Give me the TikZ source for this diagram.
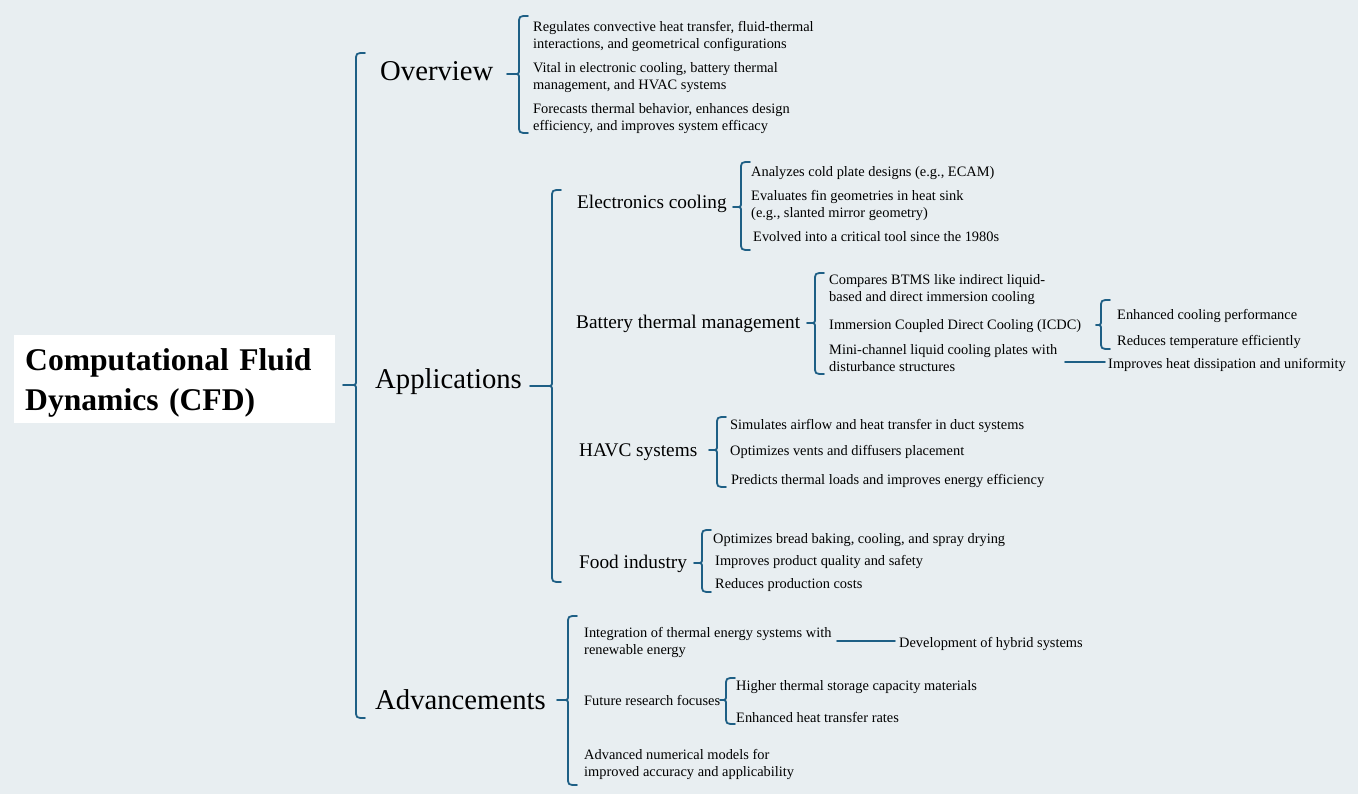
\documentclass[tikz,border=0pt]{standalone}
\usepackage{fontspec}
\setmainfont{Liberation Serif}
\definecolor{bgc}{RGB}{232,238,241}
\definecolor{lc}{RGB}{30,95,133}
\tikzset{
  br/.style={draw=lc, line width=1.8pt, line cap=round},
  sm/.style={anchor=west, inner sep=0, align=left, font=\fontsize{14.4}{17}\selectfont},
  lone/.style={anchor=west, inner sep=0, font=\fontsize{28.7}{32}\selectfont},
  ltwo/.style={anchor=west, inner sep=0, font=\fontsize{19.3}{22}\selectfont},
}
% #1 x, #2 top, #3 bottom, #4 mid, #5 nub start x
\newcommand\mybrace[5]{%
  \draw[br] (#1+9,#2) .. controls (#1,#2) .. (#1,#2+8) -- (#1,#4-5)
     .. controls (#1,#4) .. (#1-5,#4) .. controls (#1,#4) .. (#1,#4+5)
     -- (#1,#3-8) .. controls (#1,#3) .. (#1+9,#3);
  \draw[br] (#5,#4) -- (#1-5,#4);}
\begin{document}
\begin{tikzpicture}[x=1pt,y=-1pt]
\fill[bgc] (0,0) rectangle (1358,794);
\useasboundingbox (0,0) rectangle (1358,794);

% root
\fill[white] (14,335) rectangle (335,423);
\node (root) [text width=299pt, inner sep=0, anchor=west, align=left,
  font=\fontsize{31.6}{40}\selectfont\bfseries]
  at (25,383) {Computational Fluid\\Dynamics (CFD)};
\mybrace{356}{53}{718}{385}{343}

% level 1
\node (ov) [lone] at (380,71) {Overview};
\node (ap) [lone] at (375,382) {Applications};
\node (ad) [lone] at (375,700) {Advancements};

% Overview
\mybrace{519}{16}{133}{74}{507}
\node (ov1) [sm] at (533,36) {Regulates convective heat transfer, fluid-thermal\\interactions, and geometrical configurations};
\node (ov2) [sm] at (533,78) {Vital in electronic cooling, battery thermal\\management, and HVAC systems};
\node (ov3) [sm] at (533,118.5) {Forecasts thermal behavior, enhances design\\efficiency, and improves system efficacy};

% Applications
\mybrace{552}{190}{582}{386}{530}
\node (ec) [ltwo] at (577,204) {Electronics cooling};
\node (bt) [ltwo] at (576,324) {Battery thermal management};
\node (hv) [ltwo] at (579,452) {HAVC systems};
\node (fi) [ltwo] at (579,564) {Food industry};

% Electronics cooling
\mybrace{741}{162}{250}{207}{733}
\node (ec1) [sm] at (751,173.5) {Analyzes cold plate designs (e.g., ECAM)};
\node (ec2) [sm] at (751,205) {Evaluates fin geometries in heat sink\\(e.g., slanted mirror geometry)};
\node (ec3) [sm] at (753,236.5) {Evolved into a critical tool since the 1980s};

% Battery thermal management
\mybrace{815}{273}{374}{323}{807}
\node (bt1) [sm] at (829,290) {Compares BTMS like indirect liquid-\\based and direct immersion cooling};
\node (bt2) [sm] at (829,326.5) {Immersion Coupled Direct Cooling (ICDC)};
\node (bt3) [sm] at (829,358) {Mini-channel liquid cooling plates with\\disturbance structures};
\mybrace{1101}{300}{349}{325}{1096}
\node (bt21) [sm] at (1117,315.5) {Enhanced cooling performance};
\node (bt22) [sm] at (1117,341.5) {Reduces temperature efficiently};
\coordinate (m1) at (1065,362);
\coordinate (m1b) at (1105,362);
\node (bt31) [sm] at (1108,364.5) {Improves heat dissipation and uniformity};
\draw[br] (m1) -- (m1b);

% HAVC
\mybrace{717}{417}{487}{450}{709}
\node (hv1) [sm] at (730,425.5) {Simulates airflow and heat transfer in duct systems};
\node (hv2) [sm] at (730,451.5) {Optimizes vents and diffusers placement};
\node (hv3) [sm] at (731,480.5) {Predicts thermal loads and improves energy efficiency};

% Food industry
\mybrace{702}{530}{592}{563}{694}
\node (fi1) [sm] at (713,540.5) {Optimizes bread baking, cooling, and spray drying};
\node (fi2) [sm] at (715,561.5) {Improves product quality and safety};
\node (fi3) [sm] at (715,585.5) {Reduces production costs};

% Advancements
\mybrace{568}{616}{785}{700}{557}
\node (ad1) [sm] at (584,642) {Integration of thermal energy systems with\\renewable energy};
\coordinate (m2) at (837,641);
\coordinate (m2b) at (895,641);
\node (ad11) [sm] at (899,643.5) {Development of hybrid systems};
\draw[br] (m2) -- (m2b);
\node (ad2) [sm] at (584,700.5) {Future research focuses};
\mybrace{726}{678}{724}{700}{720}
\node (ad21) [sm] at (736,687.5) {Higher thermal storage capacity materials};
\node (ad22) [sm] at (736,717.5) {Enhanced heat transfer rates};
\node (ad3) [sm] at (584,764) {Advanced numerical models for\\improved accuracy and applicability};
\end{tikzpicture}
\end{document}
